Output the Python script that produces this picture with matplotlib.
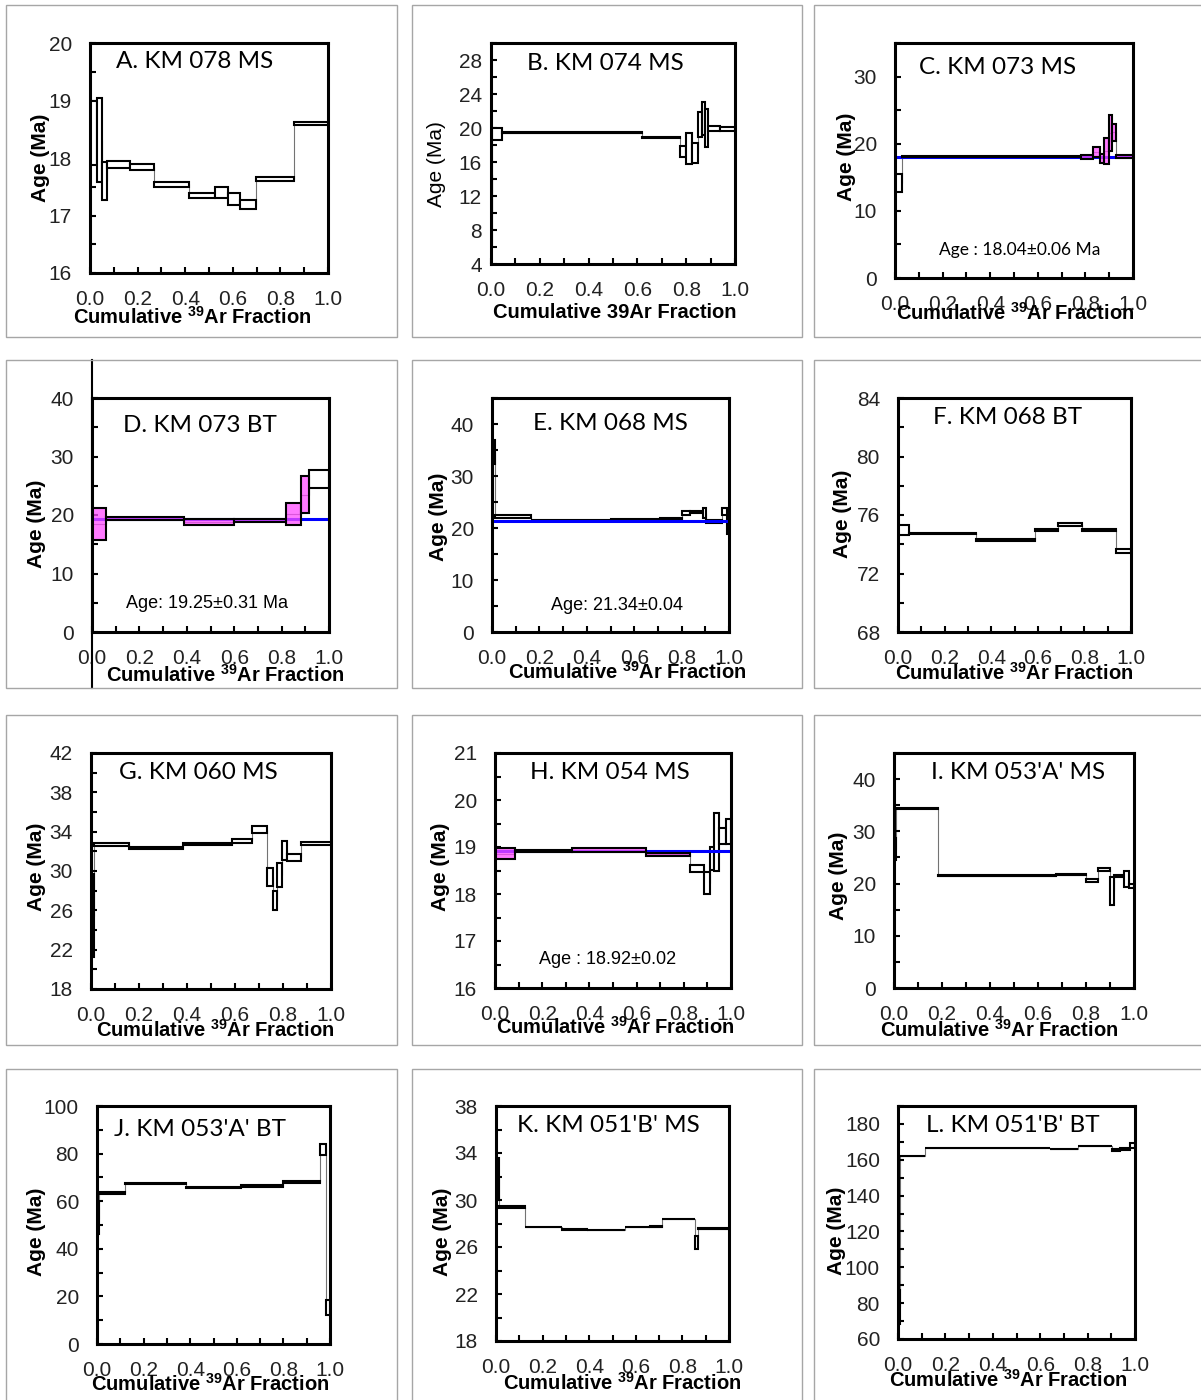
import matplotlib
matplotlib.use('Agg')
import matplotlib.pyplot as plt
import numpy as np
from matplotlib.patches import Rectangle
from matplotlib.colors import to_rgba

plt.rcParams['font.family'] = ['Liberation Sans', 'DejaVu Sans']
plt.rcParams['mathtext.fontset'] = 'custom'
plt.rcParams['mathtext.rm'] = 'Liberation Sans'
plt.rcParams['mathtext.bf'] = 'Liberation Sans:bold'

# step heating data: cumulative 39Ar edges, step age (Ma) and error
EDGES_A = [0.0, 0.028, 0.049, 0.07, 0.168, 0.269, 0.417, 0.524, 0.578, 0.632, 0.696, 0.856, 1.0]
AGE_A = [18.43, 18.32, 17.60, 17.88, 17.84, 17.54, 17.35, 17.40, 17.29, 17.19, 17.64, 18.60]
ERR_A = [0.56, 0.73, 0.33, 0.06, 0.05, 0.045, 0.045, 0.10, 0.10, 0.075, 0.035, 0.025]

EDGES_B = [0.0, 0.006, 0.046, 0.62, 0.775, 0.80, 0.825, 0.847, 0.863, 0.877, 0.89, 0.94, 1.0]
AGE_B = [10.25, 19.3, 19.45, 18.9, 17.25, 17.55, 17.05, 20.4, 21.1, 19.95, 19.95, 19.85]
ERR_B = [4.13, 0.68, 0.05, 0.1, 0.63, 1.83, 1.13, 1.48, 1.98, 2.23, 0.25, 0.25]

EDGES_C = [0.0, 0.028, 0.78, 0.83, 0.86, 0.88, 0.90, 0.91, 0.93, 1.0]
AGE_C = [14.15, 18.05, 18.0, 18.75, 17.8, 18.9, 21.65, 21.7, 18.05]
ERR_C = [1.3, 0.1, 0.35, 0.7, 0.65, 1.95, 2.7, 1.25, 0.2]
PLAT_C = [0, 1, 1, 1, 1, 1, 1, 1, 1]

EDGES_D = [0.0, 0.06, 0.39, 0.60, 0.82, 0.88, 0.915, 1.0]
AGE_D = [18.5, 19.35, 18.8, 19.05, 20.2, 23.5, 26.2]
ERR_D = [2.73, 0.28, 0.46, 0.33, 1.83, 3.23, 1.53]
PLAT_D = [1, 1, 1, 1, 1, 1, 0]

EDGES_E = [0.0, 0.012, 0.163, 0.50, 0.71, 0.80, 0.835, 0.89, 0.905, 0.97, 0.99, 1.0]
AGE_E = [34.65, 22.2, 21.55, 21.6, 21.8, 22.9, 23.0, 22.9, 21.25, 23.2, 20.55]
ERR_E = [2.36, 0.21, 0.06, 0.11, 0.11, 0.31, 0.21, 0.91, 0.26, 0.61, 1.66]

EDGES_F = [0.0, 0.046, 0.334, 0.586, 0.686, 0.789, 0.934, 1.0]
AGE_F = [74.95, 74.75, 74.28, 74.98, 75.35, 75.0, 73.52]
ERR_F = [0.35, 0.04, 0.07, 0.09, 0.08, 0.07, 0.13]

EDGES_G = [0.0, 0.012, 0.157, 0.383, 0.588, 0.671, 0.733, 0.76, 0.775, 0.796, 0.817, 0.876, 1.0]
AGE_G = [25.45, 32.72, 32.34, 32.76, 33.03, 34.21, 29.36, 26.99, 29.6, 32.1, 31.4, 32.8]
ERR_G = [4.2, 0.15, 0.1, 0.12, 0.19, 0.36, 0.9, 1.0, 1.25, 0.95, 0.36, 0.16]

EDGES_H = [0.0, 0.085, 0.325, 0.638, 0.826, 0.887, 0.911, 0.93, 0.949, 0.977, 1.0]
AGE_H = [18.86, 18.91, 18.935, 18.845, 18.54, 18.23, 18.76, 19.115, 19.235, 19.325]
ERR_H = [0.12, 0.02, 0.035, 0.035, 0.08, 0.23, 0.24, 0.615, 0.175, 0.265]
PLAT_H = [1, 1, 1, 1, 0, 0, 0, 0, 0, 0]

EDGES_I = [0.0, 0.008, 0.183, 0.676, 0.80, 0.85, 0.898, 0.915, 0.96, 0.978, 1.0]
AGE_I = [26.6, 34.42, 21.54, 21.7, 20.61, 22.75, 18.53, 21.42, 20.9, 19.55]
ERR_I = [2.06, 0.13, 0.07, 0.1, 0.23, 0.26, 2.64, 0.2, 1.48, 0.45]

EDGES_J = [0.0, 0.01, 0.121, 0.383, 0.617, 0.797, 0.955, 0.982, 1.0]
AGE_J = [52.65, 63.35, 67.55, 65.85, 66.5, 68.1, 81.75, 15.45]
ERR_J = [6.6, 0.43, 0.13, 0.13, 0.38, 0.28, 2.43, 3.13]

EDGES_K = [0.0, 0.012, 0.126, 0.283, 0.39, 0.554, 0.661, 0.714, 0.854, 0.869, 1.0]
AGE_K = [31.78, 29.38, 27.69, 27.49, 27.45, 27.69, 27.73, 28.36, 26.38, 27.57]
ERR_K = [1.8, 0.07, 0.02, 0.02, 0.01, 0.02, 0.05, 0.01, 0.55, 0.01]

EDGES_L = [0.0, 0.007, 0.113, 0.641, 0.758, 0.901, 0.937, 0.979, 1.0]
AGE_L = [77.7, 161.95, 166.65, 165.8, 167.55, 165.6, 166.1, 168.05]
ERR_L = [9.6, 0.1, 0.1, 0.05, 0.1, 0.55, 0.65, 1.5]

TITLES = ["A. KM 078 MS", "B. KM 074 MS", "C. KM 073 MS", "D. KM 073 BT",
          "E. KM 068 MS", "F. KM 068 BT", "G. KM 060 MS", "H. KM 054 MS",
          "I. KM 053'A' MS", "J. KM 053'A' BT", "K. KM 051'B' MS", "L. KM 051'B' BT"]
PLATEAU_AGE = [None, None, 18.04, 19.25, 21.34, None, None, 18.92, None, None, None, None]
AGE_TEXT = [None, None, "Age : 18.04\u00b10.06 Ma", "Age: 19.25\u00b10.31 Ma",
            "Age: 21.34\u00b10.04", None, None, "Age : 18.92\u00b10.02",
            None, None, None, None]

EDGES = [EDGES_A, EDGES_B, EDGES_C, EDGES_D, EDGES_E, EDGES_F,
         EDGES_G, EDGES_H, EDGES_I, EDGES_J, EDGES_K, EDGES_L]
AGES = [AGE_A, AGE_B, AGE_C, AGE_D, AGE_E, AGE_F, AGE_G, AGE_H, AGE_I, AGE_J, AGE_K, AGE_L]
ERRS = [ERR_A, ERR_B, ERR_C, ERR_D, ERR_E, ERR_F, ERR_G, ERR_H, ERR_I, ERR_J, ERR_K, ERR_L]
PLATS = [None, None, PLAT_C, PLAT_D, None, None, None, PLAT_H, None, None, None, None]

# y axis: (min, max, major step, minor step)
YAXES = [(16, 20, 1, 0.5), (4, 30, 4, 2), (0, 35, 10, 5), (0, 40, 10, 5),
         (0, 45, 10, 5), (68, 84, 4, 2), (18, 42, 4, 2), (16, 21, 1, 0.5),
         (0, 45, 10, 5), (0, 100, 20, 10), (18, 38, 4, 2), (60, 190, 20, 10)]

# pixel layout: axes box (l, t, r, b), title xy, xlabel xy, ylabel xy, ytick pad
LAYOUT = [
    ((90, 43, 328, 273), (195, 61), (192, 317), (40, 158), 13),
    ((491, 43, 735, 264), (605, 63), (615, 313), (436, 164), 6.5),
    ((895, 43, 1133, 278), (998, 67), (1015, 313), (846, 157), 13),
    ((92, 398, 329, 632), (200, 425), (225, 675), (37, 524), 13),
    ((492, 398, 729, 632), (610, 423), (627, 672), (439, 517), 13),
    ((898, 398, 1131, 632), (1008, 417), (1014, 673), (842, 514), 13),
    ((91, 753, 331, 989), (198, 773), (215, 1030), (36, 867), 13),
    ((495, 753, 731, 988), (610, 772), (615, 1027), (441, 867), 13),
    ((894, 753, 1134, 988), (1018, 772), (999, 1030), (839, 876), 13),
    ((97, 1106, 330, 1344), (200, 1130), (210, 1384), (36, 1232), 13),
    ((496, 1106, 729, 1341), (608, 1125), (622, 1383), (442, 1232), 13),
    ((898, 1106, 1135, 1339), (1013, 1125), (1008, 1380), (836, 1231), 13),
]
AGE_TEXT_XY = {2: ((1020, 250), 'Lato', 12.5), 3: ((207, 604), 'Liberation Sans', 13),
               4: ((617, 605), 'Liberation Sans', 13), 7: ((608, 959), 'Liberation Sans', 13)}

W, H = 1201, 1400
fig = plt.figure(figsize=(W / 100, H / 100), dpi=100)

# gray panel frames
cols = [(6, 397), (412, 802), (814, 1210)]
rows = [(5, 337), (360, 688), (715, 1045), (1069, 1410)]
for (y0, y1) in rows:
    for (x0, x1) in cols:
        fig.add_artist(Rectangle((x0 / W, 1 - y1 / H), (x1 - x0) / W, (y1 - y0) / H,
                                 transform=fig.transFigure, fill=False,
                                 edgecolor='#a6a6a6', linewidth=1.0))

pink = to_rgba('#ff4dff', 0.75)


def frac(box, x, y):
    l, t, r, b = box
    return (x - l) / (r - l), (b - y) / (b - t)


for i in range(12):
    box, txy, xlxy, ylxy, ypad = LAYOUT[i]
    l, t, r, b = box
    ax = fig.add_axes([l / W, 1 - b / H, (r - l) / W, (b - t) / H])

    edges = np.array(EDGES[i])
    age = np.array(AGES[i])
    err = np.array(ERRS[i])
    widths = np.diff(edges)
    plat = np.zeros(len(age), bool) if PLATS[i] is None else np.array(PLATS[i], bool)

    # thin connectors between steps
    ax.stairs(age, edges, baseline=None, color='0.45', linewidth=0.8, zorder=1.5)

    n = ~plat
    ax.bar(edges[:-1][n], 2 * err[n], width=widths[n], bottom=(age - err)[n], align='edge',
           facecolor='white', edgecolor='black', linewidth=1.5, zorder=2)
    if PLATEAU_AGE[i] is not None:
        ax.axhline(PLATEAU_AGE[i], color='#0000ff', linewidth=2.2, zorder=3)
    if plat.any():
        ax.bar(edges[:-1][plat], 2 * err[plat], width=widths[plat], bottom=(age - err)[plat],
               align='edge', facecolor=pink, edgecolor='black', linewidth=1.5, zorder=4)

    ymin, ymax, maj, mnr = YAXES[i]
    ax.set_xlim(0, 1)
    ax.set_ylim(ymin, ymax)
    ax.set_xticks(np.arange(0, 1.001, 0.2))
    ax.set_xticks(np.arange(0, 1.001, 0.1), minor=True)
    ax.set_yticks(np.arange(ymin, ymax + 0.001, maj))
    ax.set_yticks(np.arange(ymin, ymax + 0.001, mnr), minor=True)
    ax.set_xticklabels(['%.1f' % v for v in np.arange(0, 1.001, 0.2)])
    ax.set_yticklabels(['%g' % v for v in np.arange(ymin, ymax + 0.001, maj)])
    ax.tick_params(which='both', direction='in', length=4.5, width=1.5,
                   top=False, right=False, colors='black', labelcolor='#222222',
                   labelsize=15)
    ax.tick_params(axis='x', pad=12)
    ax.tick_params(axis='y', pad=ypad)
    for s in ax.spines.values():
        s.set_linewidth(2.2)
        s.set_zorder(6)

    ax.text(*frac(box, *txy), TITLES[i], transform=ax.transAxes, ha='center',
            va='center', family='Lato', fontsize=17.5, zorder=7)

    if AGE_TEXT[i] is not None:
        (ax_, ay_), fam, fs = AGE_TEXT_XY[i]
        ax.text(*frac(box, ax_, ay_), AGE_TEXT[i], transform=ax.transAxes,
                ha='center', va='center', family=fam, fontsize=fs, zorder=7)

    if i == 1:
        ax.set_xlabel('Cumulative 39Ar Fraction', fontsize=14.5, fontweight='bold')
        ax.set_ylabel('Age (Ma)', fontsize=15)
    else:
        ax.set_xlabel(r'Cumulative $^{\mathbf{39}}$Ar Fraction', fontsize=14.5,
                      fontweight='bold')
        ax.set_ylabel('Age (Ma)', fontsize=15, fontweight='bold')
    ax.xaxis.label.set_va('center')
    ax.yaxis.label.set_va('center')
    ax.xaxis.set_label_coords(*frac(box, *xlxy))
    ax.yaxis.set_label_coords(*frac(box, *ylxy))

    if i == 3:
        # the y axis line runs past the plot box in panel D
        fy0 = frac(box, l, 688)[1]
        fy1 = frac(box, l, 360)[1]
        ax.plot([0, 0], [fy0, fy1], transform=ax.transAxes, color='black',
                linewidth=1.5, clip_on=False, zorder=6)

fig.savefig('out.png', dpi=100)
